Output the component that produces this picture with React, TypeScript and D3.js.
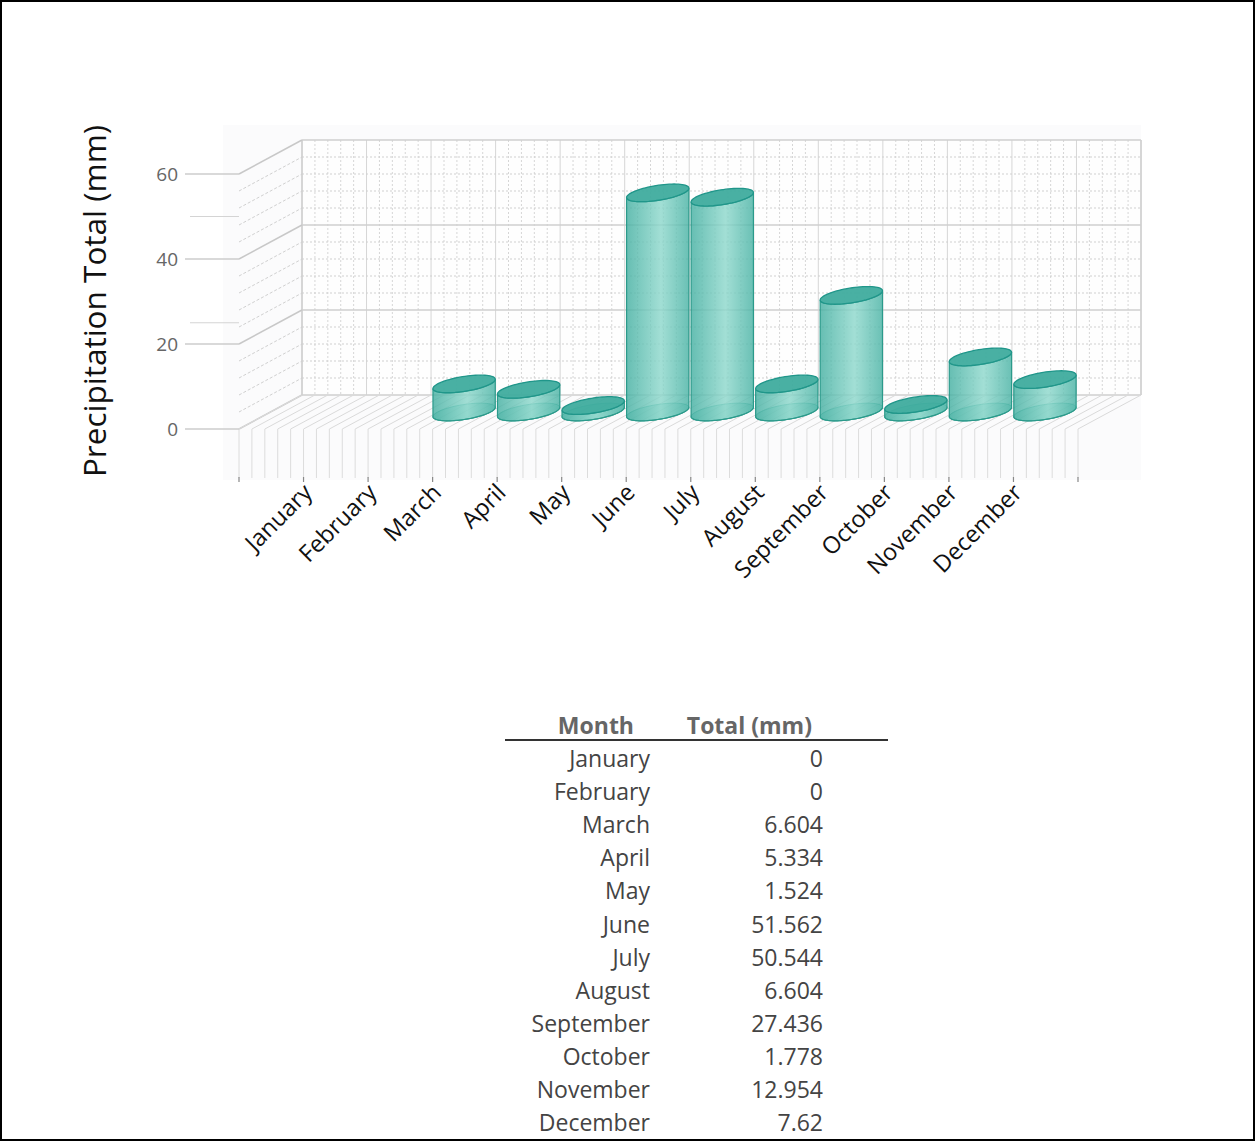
import React from "react";
import * as d3 from "d3";

const months = ["January","February","March","April","May","June","July","August","September","October","November","December"];
const totals = [0, 0, 6.604, 5.334, 1.524, 51.562, 50.544, 6.604, 27.436, 1.778, 12.954, 7.62];
const totalLabels = ["0","0","6.604","5.334","1.524","51.562","50.544","6.604","27.436","1.778","12.954","7.62"];
const yTicks = [0, 20, 40, 60];
const yExtraTicks = [50, 25];
const yMinorStep = 4;
const xDomainMax = 13;
const xMinorStep = 0.2;

const W = 1255, H = 1141;
const DX = 63, DY = 34; // oblique depth offset
const R = 26.5, RZ = 0.26, ZC = 0.5;
const FONT = "'Open Sans', 'Noto Sans', sans-serif";

const x = d3.scaleLinear().domain([0, xDomainMax]).range([239, 1078]);
const y = d3.scaleLinear().domain([0, 60]).range([429, 174]);

const ellPt = (cx: number, cy: number, t: number): [number, number] => [
  cx + R * Math.cos(t) + DX * RZ * Math.sin(t),
  cy - DY * RZ * Math.sin(t),
];
const arc = (cx: number, cy: number, a: number, b: number, n = 48) =>
  d3.range(n + 1).map((k) => ellPt(cx, cy, a + ((b - a) * k) / n));
const line = d3.line();

export default function App() {
  const t0 = Math.atan2(DX * RZ, R);
  const minorX = d3.range(0, xDomainMax + 1e-6, xMinorStep);
  const majorX = d3.range(0, xDomainMax + 1, 1);
  const minorY = d3.range(0, 60 + 1e-6, yMinorStep).filter((v) => v % 20 !== 0);
  const yBack = (v: number) => y(v) - DY;

  return (
    <svg width={W} height={H} style={{ position: "absolute", left: 0, top: 0, background: "#fff" }}>
      <defs>
        <linearGradient id="cyl" x1="0" x2="1" y1="0" y2="0">
          <stop offset="0%" stopColor="#45b0a2" />
          <stop offset="55%" stopColor="#8ed8cc" />
          <stop offset="100%" stopColor="#4ab3a5" />
        </linearGradient>
      </defs>
      <rect x={1} y={1} width={W - 2} height={H - 2} fill="#fff" stroke="#000" strokeWidth={2} />
      {/* plot background */}
      <rect x={223} y={125} width={1141 - 223} height={480 - 125} fill="#fbfbfc" />
      <rect x={x(0) + DX} y={yBack(60)} width={x(xDomainMax) - x(0)} height={yBack(0) - yBack(60)} fill="#fefefe" />

      {/* back wall minor grid */}
      {minorX.map((v, i) => (
        <line key={"bmx" + i} x1={x(v) + DX} x2={x(v) + DX} y1={yBack(60)} y2={yBack(0)}
          stroke="#d6d6d6" strokeWidth={1} strokeDasharray={Math.abs(v - Math.round(v)) < 1e-6 ? undefined : "2,2"} />
      ))}
      {minorY.map((v, i) => (
        <line key={"bmy" + i} x1={x(0) + DX} x2={x(xDomainMax) + DX} y1={yBack(v)} y2={yBack(v)}
          stroke="#d0d0d0" strokeWidth={1} strokeDasharray="2,2" />
      ))}
      {yTicks.map((v) => (
        <line key={"bMy" + v} x1={x(0) + DX} x2={x(xDomainMax) + DX} y1={yBack(v)} y2={yBack(v)} stroke="#cfcfcf" strokeWidth={1.5} />
      ))}
      <line x1={x(xDomainMax) + DX} x2={x(xDomainMax) + DX} y1={yBack(60)} y2={yBack(0)} stroke="#cfcfcf" strokeWidth={1.5} />
      <line x1={x(0) + DX} x2={x(0) + DX} y1={yBack(60)} y2={yBack(0)} stroke="#cfcfcf" strokeWidth={1.5} />

      {/* left side wall */}
      {minorY.map((v, i) => (
        <line key={"smy" + i} x1={x(0)} y1={y(v)} x2={x(0) + DX} y2={yBack(v)} stroke="#d0d0d0" strokeDasharray="3,2" />
      ))}
      {yTicks.map((v) => (
        <line key={"sMy" + v} x1={x(0)} y1={y(v)} x2={x(0) + DX} y2={yBack(v)} stroke="#c8c8c8" strokeWidth={1.5} />
      ))}

      {/* floor */}
      {minorX.map((v, i) => (
        <g key={"fl" + i}>
          <line x1={x(v)} y1={y(0)} x2={x(v) + DX} y2={yBack(0)} stroke="#dadada" />
          <line x1={x(v)} y1={y(0)} x2={x(v)} y2={478} stroke="#dcdcdc" />
        </g>
      ))}
      {majorX.map((v) => (
        <line key={"tk" + v} x1={x(v)} x2={x(v)} y1={477} y2={482} stroke="#888" strokeWidth={1.2} />
      ))}

      {/* y axis ticks and labels */}
      {yTicks.map((v) => (
        <g key={"yt" + v}>
          <line x1={185} x2={x(0)} y1={y(v)} y2={y(v)} stroke="#cccccc" strokeWidth={1.3} />
          <text x={178} y={y(v) + 6.5} textAnchor="end" fontFamily={FONT} fontSize={19} fill="#666">{v}</text>
        </g>
      ))}
      {yExtraTicks.map((v) => (
        <line key={"ye" + v} x1={190} x2={x(0)} y1={y(v)} y2={y(v)} stroke="#d4d4d4" strokeWidth={1.2} />
      ))}
      <text transform={`translate(106,301) rotate(-90)`} textAnchor="middle" fontFamily={FONT} fontSize={31.5} fill="#111">
        Precipitation Total (mm)
      </text>

      {/* cylinders */}
      {totals.map((v, i) => {
        if (v <= 0) return null;
        const cx = x(i + 1) + DX * ZC;
        const cyB = y(0) - DY * ZC;
        const cyT = y(v) - DY * ZC;
        const frontTop = arc(cx, cyT, t0 + Math.PI, t0 + 2 * Math.PI);
        const frontBot = arc(cx, cyB, t0 + 2 * Math.PI, t0 + Math.PI);
        const full = (cy: number) => line(arc(cx, cy, 0, 2 * Math.PI, 72)) + "Z";
        return (
          <g key={"c" + i}>
            <path d={full(cyB)} fill="#5fbfb2" fillOpacity={0.5} stroke="#2e9e8f" strokeWidth={1} strokeOpacity={0.7} />
            <path d={line([...frontTop, ...frontBot]) + "Z"} fill="url(#cyl)" fillOpacity={0.82} stroke="#2b9a8b" strokeWidth={1.2} />
            <path d={line(arc(cx, cyB, t0 + Math.PI, t0 + 2 * Math.PI))} fill="none" stroke="#2b9a8b" strokeWidth={1} strokeOpacity={0.6} />
            <path d={full(cyT)} fill="#3fac9e" fillOpacity={0.95} stroke="#20968a" strokeWidth={1.3} />
          </g>
        );
      })}

      {/* x labels */}
      {months.map((m, i) => (
        <text key={"xl" + m} transform={`translate(${x(i + 1) + 10},494) rotate(-45)`} textAnchor="end"
          fontFamily={FONT} fontSize={23.5} fill="#111">{m}</text>
      ))}

      {/* table */}
      <text x={634} y={734} textAnchor="end" fontFamily={FONT} fontSize={23} fontWeight="bold" fill="#666">Month</text>
      <text x={812} y={734} textAnchor="end" fontFamily={FONT} fontSize={23} fontWeight="bold" fill="#666">Total (mm)</text>
      <line x1={505} x2={888} y1={740} y2={740} stroke="#333" strokeWidth={2} />
      {months.map((m, i) => (
        <g key={"row" + m}>
          <text x={650} y={767 + 33.1 * i} textAnchor="end" fontFamily={FONT} fontSize={23} fill="#444">{m}</text>
          <text x={823} y={767 + 33.1 * i} textAnchor="end" fontFamily={FONT} fontSize={23} fill="#444">{totalLabels[i]}</text>
        </g>
      ))}
    </svg>
  );
}
